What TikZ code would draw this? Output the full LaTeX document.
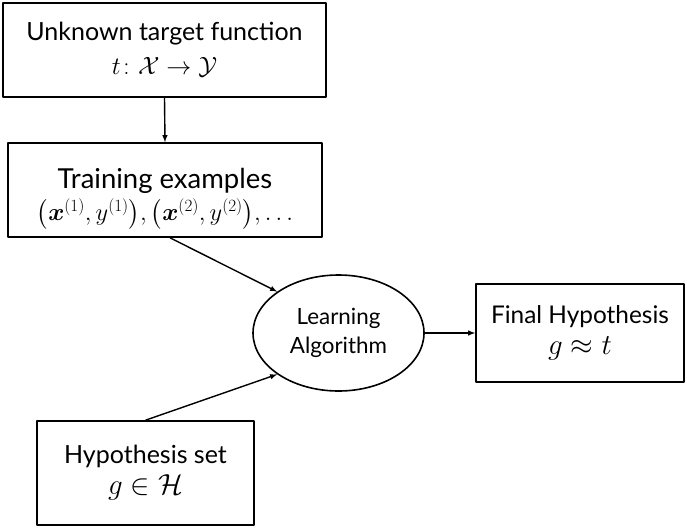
\RequirePackage{fix-cm}
\documentclass[tikz,border=0pt]{standalone}
\usepackage{amsmath}
\usepackage{fontspec}
\setmainfont{Lato}
\usetikzlibrary{shapes.geometric}
\newcommand{\sz}[2]{\fontsize{#1}{#2}\selectfont}
\begin{document}
\begin{tikzpicture}[x=1pt, y=-1pt, line join=round, >=latex,
  box/.style={draw, line width=1.6pt, align=center, inner sep=0pt},
  blob/.style={draw, ellipse, line width=1.6pt, align=center, inner sep=0pt},
  link/.style={->, line width=1.4pt}]
\useasboundingbox (0,0) rectangle (687,527);
\node[box, minimum width=323, minimum height=94, font=\sz{25}{34}] (target) at (164.5,50)
  {Unknown target function\\$t\colon \mathcal{X} \to \mathcal{Y}$};
\node[box, minimum width=314, minimum height=94, font=\sz{27.5}{32}] (train) at (165,190)
  {\rule{0pt}{38pt}Training examples\\{\sz{24.5}{32}$\bigl(\boldsymbol{x}^{(1)}, y^{(1)}\bigr), \bigl(\boldsymbol{x}^{(2)}, y^{(2)}\bigr), \ldots$}};
\node[blob, minimum width=171, minimum height=116, font=\sz{22.4}{29}] (learn) at (338.5,333)
  {Learning\\Algorithm};
\node[box, minimum width=208, minimum height=98, font=\sz{24.4}{31}] (final) at (580,333)
  {Final Hypothesis\\{\sz{29}{31}$g \approx t$}};
\node[box, minimum width=217, minimum height=104, font=\sz{25}{31}] (hypo) at (145.5,473)
  {Hypothesis set\\{\sz{29}{31}$g \in \mathcal{H}$}};
% connectors
\draw[link] (target.south) -- (train.north);
\draw[link] ([xshift=5pt]train.south) -- (learn.146);
\draw[link] (hypo.north) -- (learn.214);
\draw[link] (learn.east) -- (final.west);
\end{tikzpicture}
\end{document}
